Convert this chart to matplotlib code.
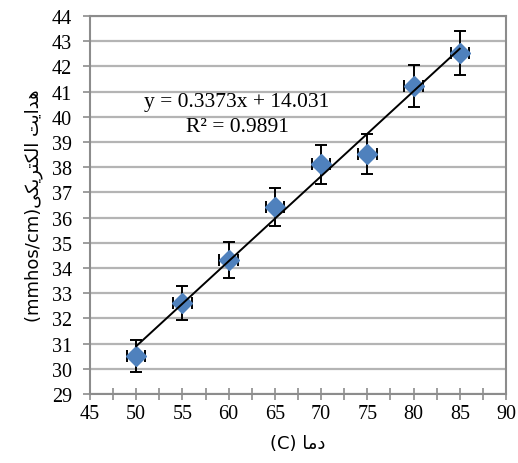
import matplotlib
matplotlib.use('Agg')
import matplotlib.pyplot as plt
from matplotlib.ticker import MultipleLocator
import numpy as np

# data
temp = [50, 55, 60, 65, 70, 75, 80, 85]
cond = [30.51, 32.61, 34.32, 36.42, 38.12, 38.52, 41.23, 42.54]
cond_err = [0.65, 0.68, 0.72, 0.75, 0.78, 0.79, 0.84, 0.88]
temp_err = [1.0, 1.0, 1.0, 1.0, 1.0, 1.0, 1.0, 1.0]
slope = 0.3373
intercept = 14.031
r2 = 0.9891

# Persian labels, shaped by hand (presentation forms, visual order)
ylabel_fa = '(mmhos/cm)' + '\uFBFD\uFB91\uFBFE\uFEAE\uFE98\uFB91\uFEDF\uFE8D \uFE96\uFBFE\uFE8D\uFEAA\uFEEB'
xlabel_fa = '(C) ' + '\uFE8E\uFEE3\uFEA9'

plt.rcParams['font.family'] = 'Liberation Serif'

fig = plt.figure(figsize=(5.18, 4.64), dpi=100)
ax = fig.add_axes([0.1737, 0.1487, 0.8031, 0.8147])

grey = '#8c8c8c'
ax.set_xlim(45, 90)
ax.set_ylim(29, 44)
ax.xaxis.set_major_locator(MultipleLocator(5))
ax.xaxis.set_minor_locator(MultipleLocator(2.5))
ax.yaxis.set_major_locator(MultipleLocator(1))
ax.set_axisbelow(True)
ax.yaxis.grid(True, color='#b4b4b4', linewidth=1.6)

for s in ax.spines.values():
    s.set_color(grey)
    s.set_linewidth(1.5)

ax.tick_params(axis='x', which='both', direction='inout', length=8, width=1.2,
               color=grey, labelsize=14.5, pad=3)
ax.tick_params(axis='y', which='major', direction='out', length=5, width=1.2,
               color=grey, labelsize=14.5, pad=8)

ax.errorbar(temp, cond, yerr=cond_err, xerr=temp_err, fmt='none',
            ecolor='black', elinewidth=1.4, capsize=4.3, capthick=1.4, zorder=2)
ax.plot(temp, cond, linestyle='none', marker='D', markersize=10.5,
        color='#4f81bd', zorder=3)

xt = np.array([min(temp), max(temp)])
ax.plot(xt, slope * xt + intercept, color='black', linewidth=1.4, zorder=4)

ax.text(60.9, 40.6, f'y = {slope}x + {intercept}', fontsize=15.5,
        ha='center', va='center', zorder=5)
ax.text(60.9, 39.6, f'R² = {r2}', fontsize=15.5,
        ha='center', va='center', zorder=5)

ax.set_ylabel(ylabel_fa, family='DejaVu Sans', fontsize=13, labelpad=6)
ax.set_xlabel(xlabel_fa, family='DejaVu Sans', fontsize=13, labelpad=8)

fig.savefig('out.png', dpi=100)
